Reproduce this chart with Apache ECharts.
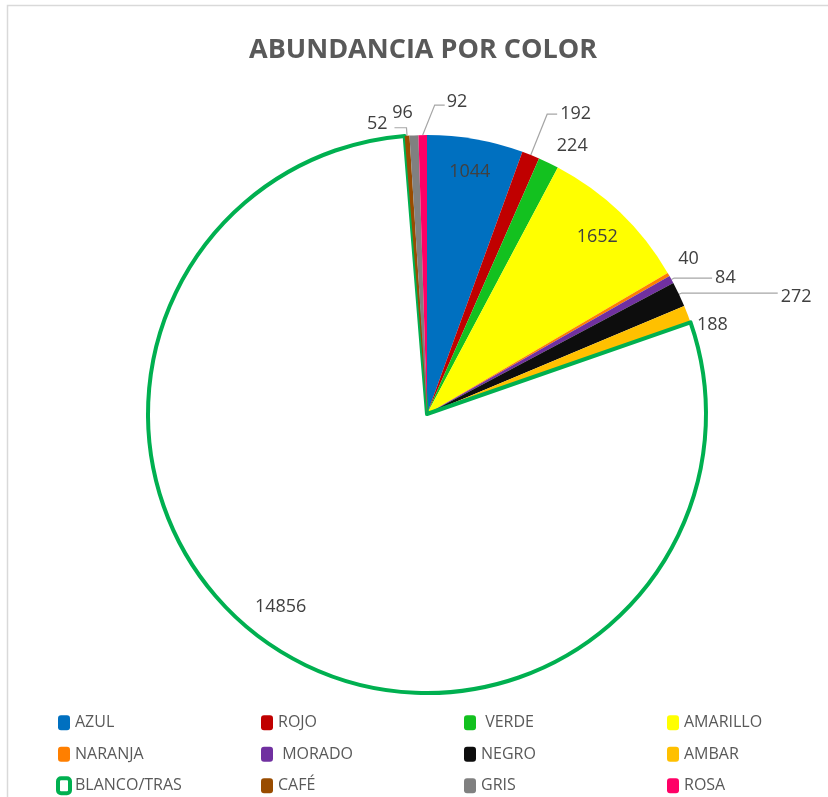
<!DOCTYPE html>
<html>
<head>
<meta charset="utf-8">
<script src="https://cdn.jsdelivr.net/npm/echarts@6/dist/echarts.min.js"></script>
<style>
  html, body { margin: 0; padding: 0; background: #fff; }
  #chart { width: 828px; height: 797px; }
</style>
</head>
<body>
<div id="chart"></div>
<script>
// Abundance by colour category
const categories = ['AZUL', 'ROJO', ' VERDE', 'AMARILLO', 'NARANJA', ' MORADO', 'NEGRO', 'AMBAR', 'BLANCO/TRAS', 'CAFÉ', 'GRIS', 'ROSA'];
const counts = [1044, 192, 224, 1652, 40, 84, 272, 188, 14856, 52, 96, 92];
const sliceColors = ['#0070C0', '#C00000', '#13C11F', '#FFFF00', '#FF7F00', '#7030A0', '#0D0D0D', '#FFC000', '#FFFFFF', '#994C00', '#808080', '#FF0066'];
// Slices whose value is written inside the pie
const insideLabelled = ['AZUL', 'AMARILLO', 'BLANCO/TRAS'];

// Leader line lengths for the outside value labels: [radial, horizontal, line shown]
const leaderLines = {
  'ROJO': [44, 10, true],
  ' VERDE': [19, 0, false],
  'NARANJA': [18, 0, false],
  ' MORADO': [3, 38, true],
  'NEGRO': [3, 96, true],
  'AMBAR': [8, 0, false],
  'CAFÉ': [8, 12, true],
  'GRIS': [22, 0, false],
  'ROSA': [30, 10, true]
};
// Small nudges that keep crowded labels apart: [dx, dy]
const labelNudges = {
  'NARANJA': [-6, -7],
  'NEGRO': [0, 4],
  'AMBAR': [2, 14],
  'CAFÉ': [-4, -4],
  'BLANCO/TRAS': [-12, -13]
};

const textColor = '#404040';
const font = 'Open Sans';

const mainData = categories.map((name, i) => {
  const item = { name, value: counts[i], itemStyle: { color: sliceColors[i] } };
  if (name === 'BLANCO/TRAS') {
    item.itemStyle.borderColor = '#00B050';
    item.itemStyle.borderWidth = 4;
  }
  if (insideLabelled.includes(name)) {
    item.label = { show: false };
    item.labelLine = { show: false };
  } else {
    const [len, len2, showLine] = leaderLines[name];
    item.labelLine = { show: showLine, length: len, length2: len2 };
    item.label = { distanceToLabelLine: showLine ? 3 : 0 };
  }
  return item;
});

// Transparent ring used only to place the inner value labels
const innerLabelData = categories.map((name, i) => ({
  name,
  value: counts[i],
  label: { show: insideLabelled.includes(name) }
}));

const rosaIndex = categories.indexOf('ROSA');

function nudgeLabel(params) {
  const nudge = labelNudges[categories[params.dataIndex]];
  return nudge ? { dx: nudge[0], dy: nudge[1] } : {};
}

const chart = echarts.init(document.getElementById('chart'));
chart.setOption({
  animation: false,
  backgroundColor: '#ffffff',
  title: {
    text: 'ABUNDANCIA POR COLOR',
    left: 244,
    top: 32,
    textStyle: { fontFamily: font, fontWeight: 'bold', fontSize: 27, color: '#595959' }
  },
  legend: {
    left: 51,
    top: 707,
    width: 806,
    itemWidth: 12,
    itemHeight: 15,
    itemGap: 10,
    icon: 'roundRect',
    data: categories,
    textStyle: { fontFamily: font, fontSize: 16, color: '#595959', width: 176, lineHeight: 21.5 },
    itemStyle: { borderWidth: 'inherit' }
  },
  graphic: [{
    type: 'rect',
    silent: true,
    shape: { x: 7.5, y: 5.5, width: 900, height: 900 },
    style: { fill: 'none', stroke: '#D9D9D9', lineWidth: 1.5 }
  }],
  series: [
    {
      type: 'pie',
      center: [427, 414],
      radius: [0, 279],
      startAngle: 90,
      clockwise: true,
      avoidLabelOverlap: false,
      data: mainData,
      label: {
        show: true,
        position: 'outside',
        formatter: '{c}',
        fontFamily: font,
        fontSize: 18,
        color: textColor
      },
      labelLine: {
        show: true,
        lineStyle: { color: '#A6A6A6', width: 1.2 }
      },
      labelLayout: function (params) {
        // The ROSA leader bends to the right, away from its neighbours
        if (params.dataIndex === rosaIndex && params.labelLinePoints) {
          const p = params.labelLinePoints[0];
          return {
            x: p[0] + 24,
            y: p[1] - 33,
            align: 'left',
            verticalAlign: 'middle',
            labelLinePoints: [p, [p[0] + 12, p[1] - 30], [p[0] + 22, p[1] - 30]]
          };
        }
        return nudgeLabel(params);
      },
      emphasis: { disabled: true }
    },
    {
      type: 'pie',
      silent: true,
      center: [427, 414],
      radius: [206, 280],
      startAngle: 90,
      clockwise: true,
      data: innerLabelData,
      itemStyle: { color: 'rgba(0,0,0,0)' },
      label: {
        position: 'inside',
        formatter: '{c}',
        fontFamily: font,
        fontSize: 18,
        color: textColor
      },
      labelLine: { show: false },
      labelLayout: nudgeLabel,
      emphasis: { disabled: true }
    }
  ]
});
</script>
</body>
</html>
